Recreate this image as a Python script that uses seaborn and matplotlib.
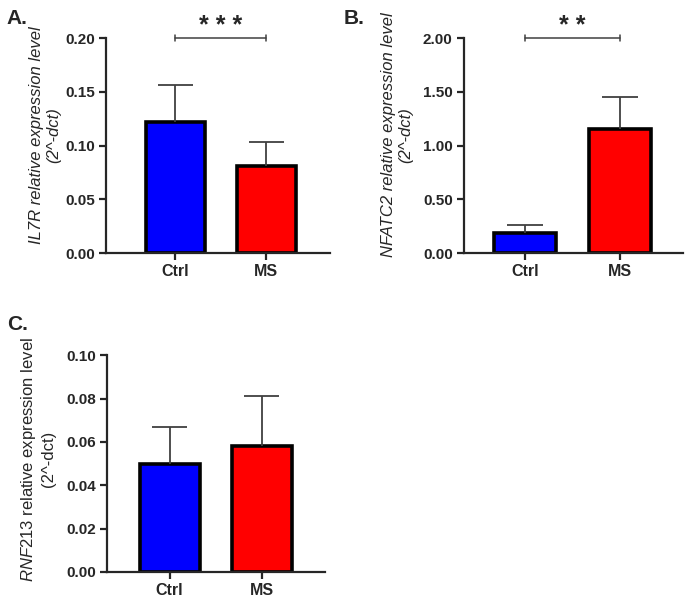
import numpy as np
import pandas as pd
import seaborn as sns
import matplotlib
matplotlib.use("Agg")
import matplotlib.pyplot as plt

# values
groups = ["Ctrl", "MS"]
il7r_mean = [0.122, 0.081]
il7r_sd = [0.034, 0.022]
nfatc2_mean = [0.19, 1.15]
nfatc2_sd = [0.07, 0.30]
rnf213_mean = [0.050, 0.058]
rnf213_sd = [0.017, 0.023]
colors = ["#0000FF", "#FF0000"]

sns.set_style("ticks")
plt.rcParams["font.family"] = ["Liberation Sans", "DejaVu Sans"]
plt.rcParams["mathtext.fontset"] = "custom"
plt.rcParams["mathtext.rm"] = "Liberation Sans"
plt.rcParams["mathtext.it"] = "Liberation Sans:italic"

fig = plt.figure(figsize=(6.85, 6.04), dpi=100)
axA = fig.add_axes([0.155, 0.581, 0.327, 0.356])
axB = fig.add_axes([0.677, 0.581, 0.320, 0.356])
axC = fig.add_axes([0.156, 0.053, 0.318, 0.359])


def panel(ax, means, sds, ymax, step, fmt, xlim):
    df = pd.DataFrame({"group": groups, "value": means})
    sns.barplot(data=df, x="group", y="value", hue="group", palette=colors,
                legend=False, edgecolor="black", linewidth=2.6, width=0.65,
                saturation=1, ax=ax)
    # upper error bar only, cap on top
    x = np.arange(len(means))
    top = np.array(means) + np.array(sds)
    ax.vlines(x, means, top, color="#404040", lw=1.3, zorder=1)
    ax.hlines(top, x - 0.19, x + 0.19, color="#404040", lw=1.3, zorder=1)
    ax.set_ylim(0, ymax)
    ax.set_xlim(*xlim)
    ticks = np.arange(0, ymax + step / 2, step)
    ax.set_yticks(ticks)
    ax.set_yticklabels([fmt.format(t) for t in ticks], fontweight="bold",
                       fontsize=11)
    ax.set_xticks([0, 1])
    ax.set_xticklabels(groups, fontweight="bold", fontsize=11.5)
    ax.set_xlabel("")
    for s in ["top", "right"]:
        ax.spines[s].set_visible(False)
    for s in ["left", "bottom"]:
        ax.spines[s].set_linewidth(1.6)
    ax.tick_params(width=1.6, length=5, direction="out", pad=3)


def bracket(ax, y, stars, h):
    ax.plot([0, 1], [y, y], color="#404040", lw=1.1, clip_on=False)
    for xx in [0, 1]:
        ax.plot([xx, xx], [y - h, y + h], color="#404040", lw=1.1,
                clip_on=False)
    ax.text(0.5, y, stars, ha="center", va="center", fontsize=18,
            fontweight="bold", clip_on=False,
            transform=ax.transData + matplotlib.transforms.ScaledTranslation(
                0, 0.12, fig.dpi_scale_trans))


panel(axA, il7r_mean, il7r_sd, 0.20, 0.05, "{:.2f}", (-0.76, 1.70))
axA.set_ylabel("IL7R relative expression level\n(2^-dct)", fontstyle="italic",
               fontsize=12, linespacing=1.2)
axA.yaxis.set_label_coords(-0.2, 0.55)
bracket(axA, 0.20, "* * *", 0.003)

panel(axB, nfatc2_mean, nfatc2_sd, 2.0, 0.5, "{:.2f}", (-0.64, 1.66))
axB.set_ylabel("NFATC2 relative expression level\n(2^-dct)", fontstyle="italic",
               fontsize=12, linespacing=1.2)
axB.yaxis.set_label_coords(-0.23, 0.55)
bracket(axB, 2.0, "* *", 0.03)

panel(axC, rnf213_mean, rnf213_sd, 0.10, 0.02, "{:.2f}", (-0.68, 1.68))
axC.set_ylabel("$\\mathit{RNF213}$ relative expression level\n(2^-dct)",
               fontsize=12, linespacing=1.2)
axC.yaxis.set_label_coords(-0.235, 0.52)

fig.text(0.010, 0.985, "A.", fontsize=15, fontweight="bold", va="top")
fig.text(0.502, 0.985, "B.", fontsize=15, fontweight="bold", va="top")
fig.text(0.010, 0.478, "C.", fontsize=15, fontweight="bold", va="top")

fig.savefig("out.png", dpi=100)
